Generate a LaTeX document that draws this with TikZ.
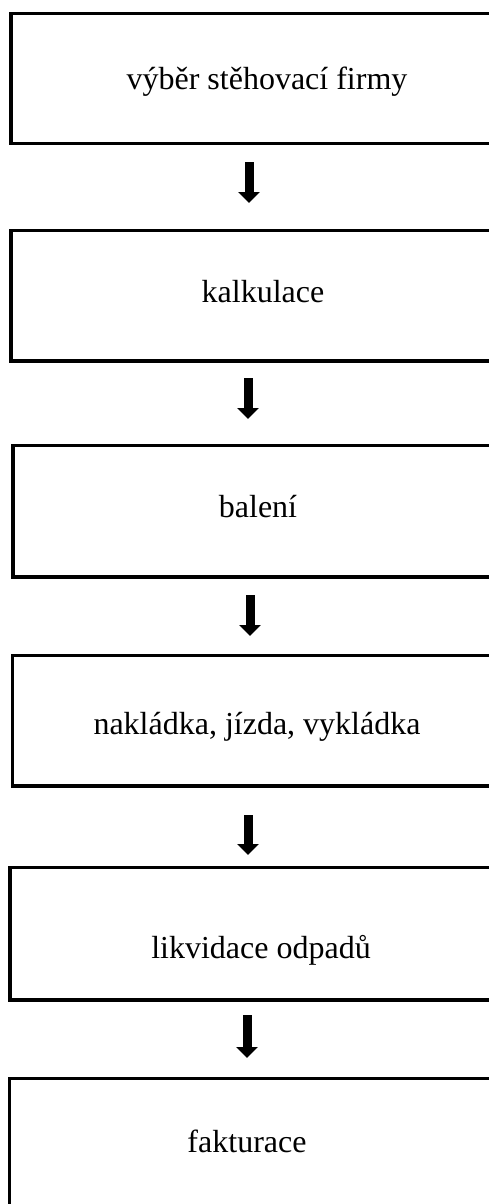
\documentclass[tikz,border=0pt]{standalone}
\usepackage{fontspec}
\setmainfont{Liberation Serif}
\usetikzlibrary{arrows.meta}

\begin{document}
\begin{tikzpicture}[x=1pt,y=-1pt,
                krok/.style={draw, line width=3.5pt, outer sep=0pt, inner sep=0pt, minimum width=520pt, anchor=north west},
                popis/.style={anchor=base, inner sep=0pt, font=\fontsize{32}{38}\selectfont},
                sipka/.style={line width=9pt, -{Triangle[width=21pt,length=11pt]}}]
                \useasboundingbox (0,0) rectangle (489,1204);
                \clip (0,0) rectangle (489,1204);

                \node[krok, minimum height=130pt]   (k1) at (11,13.5)    {};
                \node[krok, minimum height=130.5pt] (k2) at (11,230.5)   {};
                \node[krok, minimum height=131.5pt] (k3) at (13,445.5)   {};
                \node[krok, minimum height=130.5pt] (k4) at (12.5,655.5) {};
                \node[krok, minimum height=132.5pt] (k5) at (10,867.5)   {};
                \node[krok, minimum height=140pt]   (k6) at (9.5,1078.5) {};

                \node[popis] (p1) at (267,90)   {výběr stěhovací firmy};
                \node[popis] (p2) at (263,302)  {kalkulace};
                \node[popis] (p3) at (258,517)  {balení};
                \node[popis] (p4) at (257,734)  {nakládka, jízda, vykládka};
                \node[popis] (p5) at (261,958)  {likvidace odpadů};
                \node[popis] (p6) at (247,1152) {fakturace};

                \draw[sipka, shorten <=18.5pt, shorten >=27.5pt] ([xshift=238pt]k1.south west) -- ([xshift=238pt]k2.north west);
                \draw[sipka, shorten <=17pt, shorten >=26.5pt]   ([xshift=237pt]k2.south west) -- ([xshift=235pt]k3.north west);
                \draw[sipka, shorten <=18pt, shorten >=19.5pt]   ([xshift=237pt]k3.south west) -- ([xshift=237.5pt]k4.north west);
                \draw[sipka, shorten <=29pt, shorten >=12.5pt]   ([xshift=235.5pt]k4.south west) -- ([xshift=238pt]k5.north west);
                \draw[sipka, shorten <=15pt, shorten >=20.5pt]   ([xshift=237pt]k5.south west) -- ([xshift=237.5pt]k6.north west);
\end{tikzpicture}
\end{document}
